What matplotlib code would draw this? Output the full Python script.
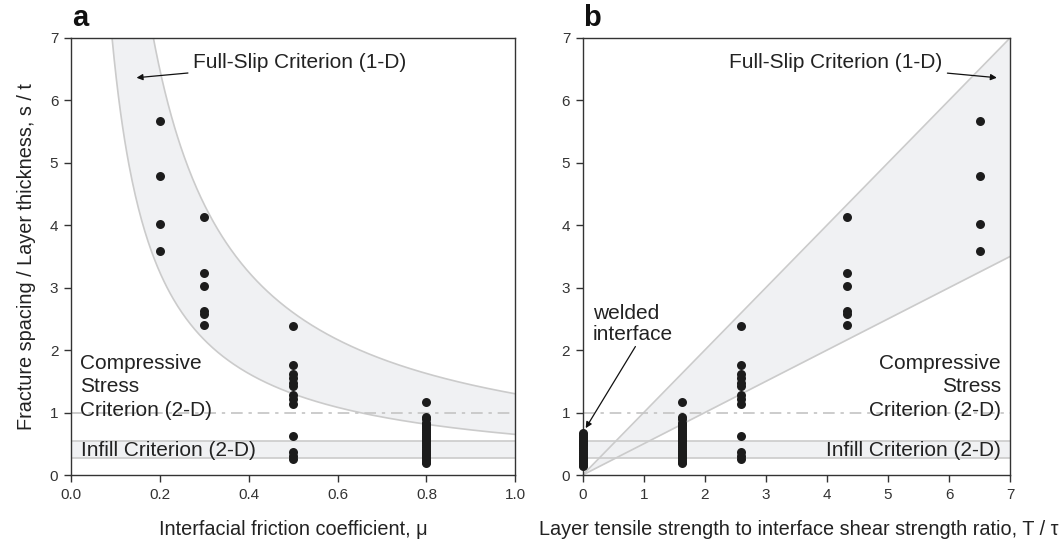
import numpy as np
import matplotlib
matplotlib.use("Agg")
import matplotlib.pyplot as plt

plt.rcParams['font.family'] = ['Liberation Sans', 'DejaVu Sans']

# Measured fracture spacing / layer thickness for each interfacial friction coefficient
friction = [0.2, 0.3, 0.5, 0.8]
strength_ratio = [6.5, 4.33, 2.6, 1.625]          # T / tau for the same runs
spacing_mu02 = [5.66, 4.78, 4.02, 3.58]
spacing_mu03 = [4.13, 3.24, 3.03, 2.63, 2.58, 2.40]
spacing_mu05 = [2.38, 1.76, 1.61, 1.55, 1.48, 1.43, 1.28, 1.22, 1.14,
                0.63, 0.37, 0.31, 0.25]
spacing_mu08 = [1.17, 0.93, 0.89, 0.84, 0.81, 0.78, 0.75, 0.72, 0.69, 0.66,
                0.63, 0.60, 0.57, 0.54, 0.51, 0.48, 0.45, 0.42, 0.39, 0.36,
                0.33, 0.30, 0.27, 0.24, 0.21, 0.19]
spacing_welded = [0.67, 0.64, 0.61, 0.58, 0.55, 0.52, 0.49, 0.46, 0.43, 0.40,
                  0.37, 0.34, 0.31, 0.28, 0.25, 0.22, 0.19, 0.16, 0.14]
welded_ratio = 0.0

# Criteria
fullslip_low_coef, fullslip_high_coef = 0.65, 1.3   # s/t = coef / mu
ratio_slope_low, ratio_slope_high = 0.5, 1.0        # s/t = slope * T/tau
infill_low, infill_high = 0.27, 0.545
compressive_level = 1.0

spacing_sets = [spacing_mu02, spacing_mu03, spacing_mu05, spacing_mu08]

band_fill = '#f0f1f3'
band_edge = '#cbcbcb'
dot_color = '#1c1c1c'
text_color = '#222222'
spine_color = '#333333'
fs_text = 15
fs_label = 14.3
fs_tick = 11

fig = plt.figure(figsize=(10.64, 5.43), dpi=100)
ax_a = fig.add_axes([0.0665, 0.1252, 0.4179, 0.8053])
ax_b = fig.add_axes([0.5476, 0.1252, 0.4019, 0.8053])


def style_axes(ax):
    for sp in ax.spines.values():
        sp.set_color(spine_color)
        sp.set_linewidth(1.0)
    ax.tick_params(direction='out', length=5, width=1.0, color=spine_color,
                   labelsize=fs_tick, labelcolor='#333333', pad=4)
    ax.set_ylim(0, 7)
    ax.set_yticks(range(0, 8))


def draw_common(ax):
    # infill band
    ax.axhspan(infill_low, infill_high, color=band_fill, zorder=0, lw=0)
    ax.axhline(infill_low, color=band_edge, lw=1.2, zorder=1)
    ax.axhline(infill_high, color=band_edge, lw=1.2, zorder=1)
    # compressive stress criterion
    ax.axhline(compressive_level, color='#c4c4c4', lw=1.2,
               linestyle=(0, (7, 3.5, 2, 3.5)), zorder=1)


# ---- panel a ----
style_axes(ax_a)
ax_a.set_xlim(0, 1.0)
ax_a.set_xticks(np.arange(0, 1.01, 0.2))
ax_a.set_xticklabels([f"{v:.1f}" for v in np.arange(0, 1.01, 0.2)])
mu = np.linspace(0.05, 1.0, 400)
lo = fullslip_low_coef / mu
hi = fullslip_high_coef / mu
ax_a.fill_between(mu, lo, hi, color=band_fill, lw=0, zorder=0)
ax_a.plot(mu, lo, color=band_edge, lw=1.2, zorder=1)
ax_a.plot(mu, hi, color=band_edge, lw=1.2, zorder=1)
draw_common(ax_a)
for x, ys in zip(friction, spacing_sets):
    ax_a.scatter([x] * len(ys), ys, s=42, color=dot_color, zorder=3,
                 linewidths=0, clip_on=False)

ax_a.annotate('Full-Slip Criterion (1-D)', xy=(0.148, 6.36), xytext=(0.276, 6.6),
              fontsize=fs_text, color=text_color, va='center', ha='left',
              arrowprops=dict(arrowstyle='-|>', color='#111111', lw=0.9,
                              mutation_scale=9, shrinkA=2, shrinkB=0))
ax_a.text(0.021, 1.41, 'Compressive\nStress\nCriterion (2-D)', fontsize=fs_text,
          color=text_color, ha='left', va='center', linespacing=1.32, zorder=4)
ax_a.text(0.022, 0.40, 'Infill Criterion (2-D)', fontsize=fs_text,
          color=text_color, ha='left', va='center', zorder=4)
ax_a.set_xlabel('Interfacial friction coefficient, μ', fontsize=fs_label,
                color=text_color, labelpad=13)
ax_a.set_ylabel('Fracture spacing / Layer thickness, s / t', fontsize=fs_label,
                color=text_color, labelpad=10)
ax_a.text(0.003, 1.012, 'a', transform=ax_a.transAxes, fontsize=21,
          fontweight='bold', color='#111111', ha='left', va='bottom')

# ---- panel b ----
style_axes(ax_b)
ax_b.set_xlim(0, 7)
ax_b.set_xticks(range(0, 8))
r = np.linspace(0, 7, 200)
ax_b.fill_between(r, ratio_slope_low * r, ratio_slope_high * r,
                  color=band_fill, lw=0, zorder=0)
ax_b.plot(r, ratio_slope_low * r, color=band_edge, lw=1.2, zorder=1)
ax_b.plot(r, ratio_slope_high * r, color=band_edge, lw=1.2, zorder=1)
draw_common(ax_b)
for x, ys in zip(strength_ratio, spacing_sets):
    ax_b.scatter([x] * len(ys), ys, s=42, color=dot_color, zorder=3,
                 linewidths=0, clip_on=False)
ax_b.scatter([welded_ratio] * len(spacing_welded), spacing_welded, s=42,
             color=dot_color, zorder=5, linewidths=0, clip_on=False)

ax_b.annotate('Full-Slip Criterion (1-D)', xy=(6.78, 6.36), xytext=(5.88, 6.6),
              fontsize=fs_text, color=text_color, va='center', ha='right',
              arrowprops=dict(arrowstyle='-|>', color='#111111', lw=0.9,
                              mutation_scale=9, shrinkA=2, shrinkB=0))
ax_b.annotate('welded\ninterface', xy=(0.05, 0.75), xytext=(0.17, 2.42),
              fontsize=fs_text, color=text_color, va='center', ha='left',
              linespacing=1.12,
              arrowprops=dict(arrowstyle='-|>', color='#111111', lw=0.9,
                              mutation_scale=9, shrinkA=0, shrinkB=0,
                              relpos=(0.55, 0.0)))
ax_b.text(6.85, 1.41, 'Compressive\nStress\nCriterion (2-D)', fontsize=fs_text,
          color=text_color, ha='right', va='center', linespacing=1.32, zorder=4)
ax_b.text(6.85, 0.40, 'Infill Criterion (2-D)', fontsize=fs_text,
          color=text_color, ha='right', va='center', zorder=4)
ax_b.set_xlabel('Layer tensile strength to interface shear strength ratio, T / τ',
                fontsize=fs_label, color=text_color, labelpad=13)
ax_b.xaxis.set_label_coords(0.505, -0.104)
ax_b.text(0.0, 1.012, 'b', transform=ax_b.transAxes, fontsize=21,
          fontweight='bold', color='#111111', ha='left', va='bottom')

fig.savefig('out.png', dpi=100)
